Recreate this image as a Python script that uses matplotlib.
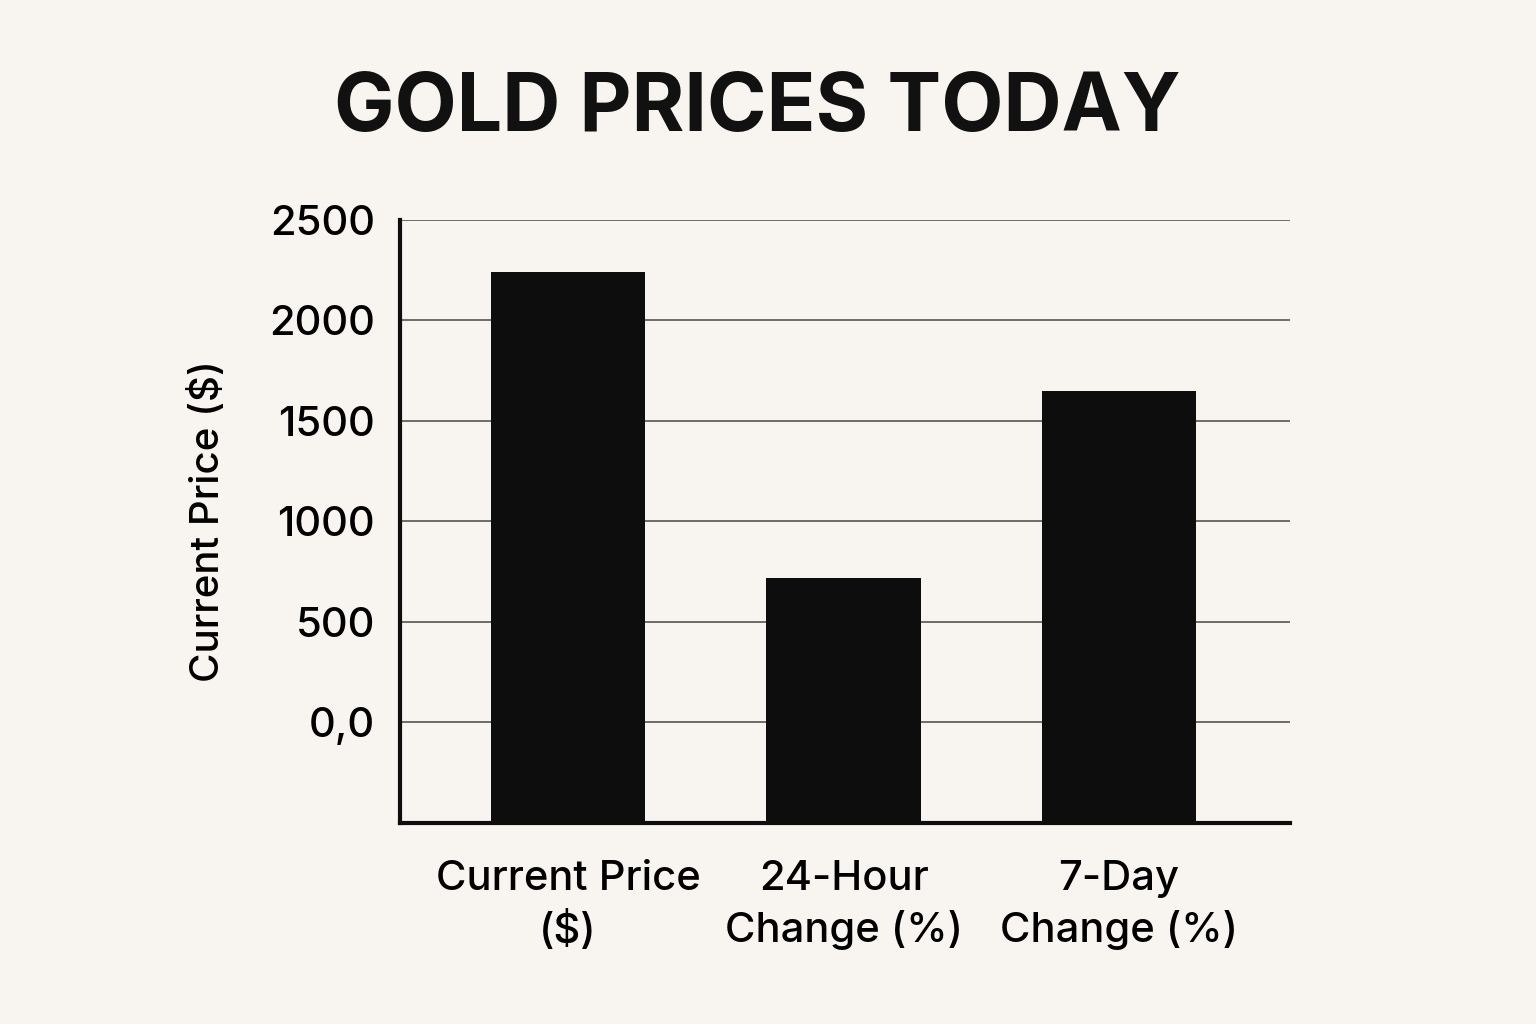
import matplotlib.pyplot as plt

# Chart data
categories = ["Current Price\n($)", "24-Hour\nChange (%)", "7-Day\nChange (%)"]
values = [2240, 720, 1650]
y_ticks = [0, 500, 1000, 1500, 2000, 2500]
y_tick_labels = ["0,0", "500", "1000", "1500", "2000", "2500"]
y_floor = -500

bg = "#f8f5f0"
plt.rcParams["font.family"] = ["Inter", "DejaVu Sans"]

fig = plt.figure(figsize=(15.36, 10.24), dpi=100, facecolor=bg)
ax = fig.add_axes([0.2604, 0.1963, 0.5794, 0.5889], facecolor=bg)

x = range(len(categories))
ax.bar(x, [v - y_floor for v in values], bottom=y_floor, width=0.56,
       color="#0c0d0c", zorder=3)

ax.set_ylim(y_floor, 2500)
ax.set_xlim(-0.61, 2.62)
ax.set_yticks(y_ticks)
ax.set_yticklabels(y_tick_labels, fontsize=30, fontweight="medium")
ax.set_xticks(list(x))
ax.set_xticklabels(categories, fontsize=30, fontweight="medium", linespacing=1.35)
ax.tick_params(axis="both", length=0)
ax.tick_params(axis="y", pad=18)
ax.tick_params(axis="x", pad=27)

ax.grid(axis="y", color="#555555", linewidth=1.2, zorder=0)
for s in ["top", "right"]:
    ax.spines[s].set_visible(False)
for s in ["left", "bottom"]:
    ax.spines[s].set_linewidth(3)
    ax.spines[s].set_color("#0c0d0c")

ax.set_ylabel("Current Price ($)", fontsize=29, fontweight="medium", labelpad=30)

fig.text(0.493, 0.893, "GOLD PRICES TODAY", ha="center", va="center",
         fontsize=58, fontweight="bold", color="#111111")

fig.savefig("out.png", dpi=100, facecolor=bg)
